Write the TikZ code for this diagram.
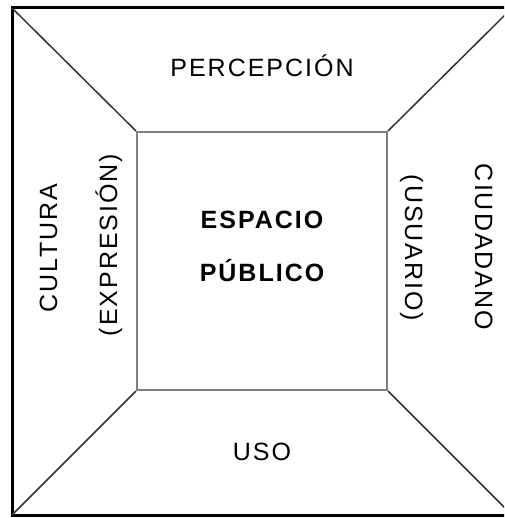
\documentclass[tikz,border=0pt]{standalone}
\usepackage{fontspec}
\setmainfont{Liberation Sans}
\newfontfamily\rotulofont{Liberation Sans}[LetterSpace=8]
\tikzset{
  marco/.style={draw=black,line width=3pt},
  diagonal/.style={draw=black!80,line width=1.5pt},
  rotulo/.style={inner sep=0pt,anchor=base,font=\rotulofont\fontsize{25}{30}\selectfont},
}
\begin{document}
\begin{tikzpicture}[x=1pt,y=-1pt]
  \useasboundingbox (0,0) rectangle (504,518);
  \clip (0,0) rectangle (504,518);

  % Outer frame: its right side lies past the page edge.
  \coordinate (otl) at (12,8);
  \coordinate (otr) at (512,8);
  \coordinate (obr) at (512,515);
  \coordinate (obl) at (12,515);
  \draw[marco] (otl) rectangle (obr);

  % Central square.
  \node[draw=black!50,line width=2pt,inner sep=0pt,
        minimum width=250pt,minimum height=258pt] (centro) at (262,261) {};

  % Corner diagonals.
  \draw[diagonal] (centro.north west) -- (otl);
  \draw[diagonal] (centro.north east) -- (otr);
  \draw[diagonal] (centro.south east) -- (obr);
  \draw[diagonal] (centro.south west) -- (obl);

  % Labels.
  \node[rotulo,font=\rotulofont\bfseries\fontsize{25}{30}\selectfont] (espacio) at (262,229) {ESPACIO};
  \node[rotulo,font=\rotulofont\bfseries\fontsize{25}{30}\selectfont] (publico) at (262,281) {PÚBLICO};
  \node[rotulo] (percepcion) at (262,77) {PERCEPCIÓN};
  \node[rotulo] (uso) at (262,460) {USO};
  \node[rotulo,rotate=90] (cultura) at (57,248) {CULTURA};
  \node[rotulo,rotate=90] (expresion) at (117,245) {(EXPRESIÓN)};
  \node[rotulo,rotate=-90] (usuario) at (405,248) {(USUARIO)};
  \node[rotulo,rotate=-90] (ciudadano) at (475,247) {CIUDADANO};
\end{tikzpicture}
\end{document}
